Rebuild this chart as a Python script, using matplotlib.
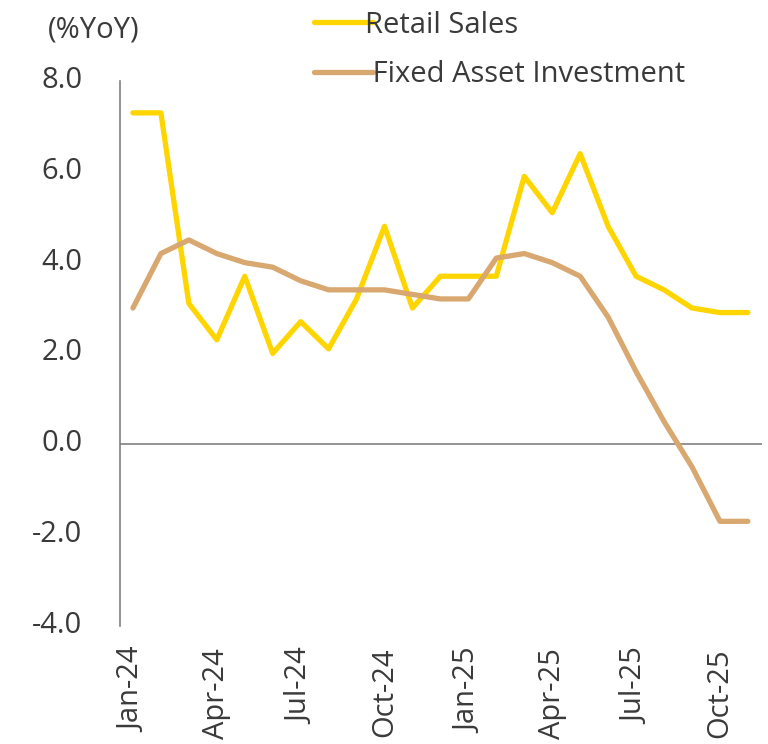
import matplotlib.pyplot as plt
import matplotlib.transforms as mtransforms
import numpy as np

# Data, monthly Jan-24 .. Nov-25
months = ["Jan-24", "Feb-24", "Mar-24", "Apr-24", "May-24", "Jun-24", "Jul-24",
          "Aug-24", "Sep-24", "Oct-24", "Nov-24", "Dec-24", "Jan-25", "Feb-25",
          "Mar-25", "Apr-25", "May-25", "Jun-25", "Jul-25", "Aug-25", "Sep-25",
          "Oct-25", "Nov-25"]
retail_sales = [7.3, 7.3, 3.1, 2.3, 3.7, 2.0, 2.7, 2.1, 3.2, 4.8, 3.0, 3.7,
                3.7, 3.7, 5.9, 5.1, 6.4, 4.8, 3.7, 3.4, 3.0, 2.9, 2.9]
fixed_asset_inv = [3.0, 4.2, 4.5, 4.2, 4.0, 3.9, 3.6, 3.4, 3.4, 3.4, 3.3, 3.2,
                   3.2, 4.1, 4.2, 4.0, 3.7, 2.8, 1.6, 0.5, -0.5, -1.7, -1.7]
tick_labels = ["Jan-24", "Apr-24", "Jul-24", "Oct-24", "Jan-25", "Apr-25",
               "Jul-25", "Oct-25"]
y_ticks = [-4.0, -2.0, 0.0, 2.0, 4.0, 6.0, 8.0]

plt.rcParams['font.family'] = ['Open Sans', 'DejaVu Sans']
TEXT = "#3a3a3a"
YELLOW = "#FFD500"
TAN = "#D8A870"
FS = 21

fig = plt.figure(figsize=(7.68, 7.44), dpi=100)
ax = fig.add_axes([0.156, 0.159, 0.836, 0.732])

x = np.arange(len(months))
ax.plot(x, retail_sales, color=YELLOW, lw=3.8, solid_capstyle='round',
        solid_joinstyle='round', label="Retail Sales", zorder=3)
ax.plot(x, fixed_asset_inv, color=TAN, lw=3.8, solid_capstyle='round',
        solid_joinstyle='round', label=" Fixed Asset Investment", zorder=3)
ax.axhline(0, color="#808080", lw=1.2, zorder=1)

ax.set_xlim(-0.47, 22.5)
ax.set_ylim(-4, 8)
ax.set_yticks(y_ticks)
ax.set_yticklabels([f"{v:.1f}" for v in y_ticks], fontsize=FS, color=TEXT)
tick_pos = [months.index(m) for m in tick_labels]
ax.set_xticks(tick_pos)
ax.set_xticklabels(tick_labels, rotation=90, fontsize=FS, color=TEXT)
ax.tick_params(axis='both', length=0)
ax.tick_params(axis='x', pad=16)
ax.tick_params(axis='y', pad=27)

# y labels sit a few pixels above their gridline in the original
shift = mtransforms.ScaledTranslation(0, 4 / 100, fig.dpi_scale_trans)
for lbl in ax.get_yticklabels():
    lbl.set_transform(lbl.get_transform() + shift)

for side in ['top', 'right', 'bottom']:
    ax.spines[side].set_visible(False)
ax.spines['left'].set_color("#808080")
ax.spines['left'].set_linewidth(1.2)

fig.text(0.0625, 0.96, "(%YoY)", fontsize=FS, color=TEXT, va='center')

leg = fig.legend(loc='upper left', bbox_to_anchor=(0.375, 1.021), frameon=False,
                 fontsize=FS, handlelength=2.0, handletextpad=-0.25,
                 labelspacing=0.7, labelcolor=TEXT)

fig.savefig("out.png", dpi=100, facecolor='white')
